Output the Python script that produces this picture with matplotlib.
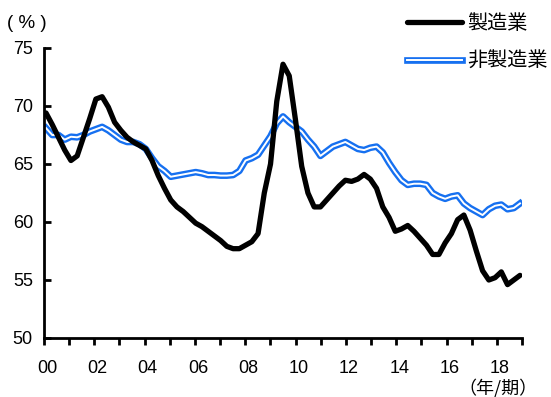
import numpy as np
import matplotlib
matplotlib.use('Agg')
import matplotlib.pyplot as plt
import matplotlib.transforms as mtransforms

plt.rcParams['font.family'] = ['Liberation Sans', 'Noto Sans CJK JP']

# quarterly, 2000Q1 .. 2019Q1
start_year = 2000
manufacturing = [
    69.4, 68.4, 67.3, 66.2, 65.3, 65.7, 67.3, 68.9,
    70.6, 70.8, 69.9, 68.6, 67.9, 67.3, 66.9, 66.6,
    66.3, 65.3, 64.0, 62.9, 61.9, 61.3, 60.9, 60.4,
    59.9, 59.6, 59.2, 58.8, 58.4, 57.9, 57.7, 57.7,
    58.0, 58.3, 59.0, 62.5, 65.0, 70.4, 73.6, 72.6,
    68.8, 64.8, 62.5, 61.3, 61.3, 61.9, 62.5, 63.1,
    63.6, 63.5, 63.7, 64.1, 63.7, 62.9, 61.3, 60.4,
    59.2, 59.4, 59.7, 59.2, 58.6, 58.0, 57.2, 57.2,
    58.2, 59.0, 60.2, 60.6, 59.3, 57.5, 55.8, 55.0,
    55.2, 55.7, 54.6, 55.0, 55.4,
]
non_manufacturing = [
    68.1, 67.5, 67.5, 67.1, 67.35, 67.3, 67.5, 67.8,
    68.0, 68.2, 67.9, 67.5, 67.1, 66.9, 66.9, 66.7,
    66.3, 65.5, 64.8, 64.4, 63.9, 64.0, 64.1, 64.2,
    64.3, 64.2, 64.05, 64.05, 64.0, 64.0, 64.05, 64.4,
    65.3, 65.5, 65.8, 66.6, 67.4, 68.5, 69.1, 68.6,
    68.2, 67.8, 67.1, 66.5, 65.7, 66.1, 66.5, 66.7,
    66.9, 66.6, 66.3, 66.2, 66.4, 66.5, 66.0, 65.1,
    64.3, 63.6, 63.2, 63.3, 63.3, 63.2, 62.5, 62.2,
    62.0, 62.2, 62.3, 61.6, 61.2, 60.9, 60.6, 61.1,
    61.4, 61.5, 61.1, 61.2, 61.6,
]
year_labels = ['00', '02', '04', '06', '08', '10', '12', '14', '16', '18']
labels = ['製造業', '非製造業']
y_ticks = [50, 55, 60, 65, 70, 75]

blue = '#1670f0'

t = start_year + np.arange(len(manufacturing)) / 4.0

fig = plt.figure(figsize=(5.51, 3.97), dpi=100)
ax = fig.add_axes([44 / 551, 1 - 338 / 397, 478 / 551, 290 / 397])

l1, = ax.plot(t, manufacturing, color='black', lw=3.8, solid_joinstyle='round',
              solid_capstyle='round', zorder=3)
l2a, = ax.plot(t, non_manufacturing, color=blue, lw=4.8, solid_joinstyle='round', zorder=2)
l2b, = ax.plot(t, non_manufacturing, color='white', lw=1.4, solid_joinstyle='round', zorder=2)

xmin, xmax = 1999.92, 2019.08
ax.set_xlim(xmin, xmax)
ax.set_ylim(50, 75)
ax.set_yticks(y_ticks)

ticks = np.linspace(xmin, xmax, 20)
ax.set_xticks(ticks)
ax.set_xticklabels([year_labels[i // 2] if i % 2 == 0 else '' for i in range(20)])

for s in ['top', 'right']:
    ax.spines[s].set_visible(False)
for s in ['left', 'bottom']:
    ax.spines[s].set_linewidth(2.0)

ax.tick_params(axis='y', direction='in', length=5, width=2, pad=8, labelsize=13)
ax.tick_params(axis='x', direction='out', length=5, width=2, pad=11, labelsize=13)

offset = mtransforms.ScaledTranslation(3 / 100, 0, fig.dpi_scale_trans)
for lab in ax.get_xticklabels():
    lab.set_transform(lab.get_transform() + offset)

fig.text(7 / 551, 1 - 23 / 397, '( % )', fontsize=13.5, va='center', ha='left')
fig.text(538 / 551, 1 - 388 / 397, '（年/期）', fontsize=13, va='center', ha='right',
         family=['Noto Sans CJK JP'])

leg = fig.legend([l1, (l2a, l2b)], labels,
                 loc='upper left', bbox_to_anchor=(407 / 551, 1 - 14 / 397),
                 frameon=False, fontsize=14.5, handlelength=2.75, handletextpad=0.25,
                 labelspacing=0.95, borderpad=0, borderaxespad=0)

fig.savefig('out.png', dpi=100)
